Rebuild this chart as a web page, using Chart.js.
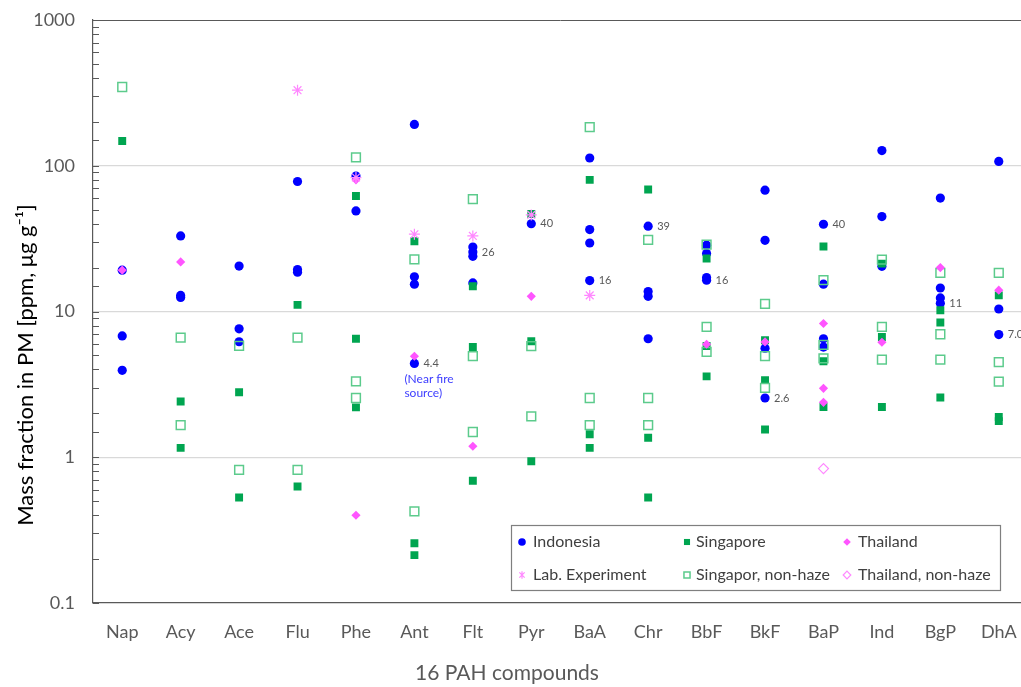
<!DOCTYPE html>
<html>
<head>
<meta charset="utf-8">
<script src="https://cdn.jsdelivr.net/npm/chart.js@4.4.1/dist/chart.umd.min.js"></script>
<style>
html,body{margin:0;padding:0;background:#fff;overflow:hidden;}
#c{display:block;width:1028px;height:687px;}
</style>
</head>
<body>
<canvas id="c" width="1028" height="687"></canvas>
<script>
const categories = ['Nap','Acy','Ace','Flu','Phe','Ant','Flt','Pyr','BaA','Chr','BbF','BkF','BaP','Ind','BgP','DhA'];
const yTickValues = [0.1, 1, 10, 100, 1000];

const indonesiaCats = ['Nap','Nap','Nap','Acy','Acy','Acy','Ace','Ace','Ace','Flu','Flu','Flu','Phe','Phe','Ant','Ant','Ant','Ant','Flt','Flt','Flt','Flt','Pyr','BaA','BaA','BaA','BaA','Chr','Chr','Chr','Chr','BbF','BbF','BbF','BbF','BkF','BkF','BkF','BkF','BaP','BaP','BaP','BaP','Ind','Ind','Ind','BgP','BgP','BgP','BgP','DhA','DhA','DhA'];
const indonesiaVals = [19.2,6.8,3.95,33,12.9,12.5,20.5,7.6,6.2,78,19.4,18.6,85,49,192,17.3,15.4,4.4,27.7,25.6,23.9,15.7,40,113,36.5,29.5,16.3,38.5,13.7,12.7,6.5,28.5,25,17.1,16.4,68,30.8,5.6,2.55,39.7,15.4,6.5,5.7,127,44.8,20.4,60,14.5,12.4,11.4,107,10.4,6.95];

const singaporeCats = ['Nap','Acy','Acy','Ace','Ace','Flu','Flu','Phe','Phe','Phe','Ant','Ant','Ant','Flt','Flt','Flt','Pyr','Pyr','Pyr','BaA','BaA','BaA','Chr','Chr','Chr','BbF','BbF','BbF','BkF','BkF','BkF','BaP','BaP','BaP','Ind','Ind','Ind','BgP','BgP','BgP','DhA','DhA','DhA'];
const singaporeVals = [148,2.41,1.16,2.79,0.53,11.1,0.63,62,6.5,2.2,30.3,0.257,0.213,14.9,5.7,0.69,46.7,6.25,0.94,80,1.44,1.16,68.7,1.36,0.53,23.1,5.8,3.59,6.35,3.38,1.55,27.9,4.56,2.21,21.3,6.69,2.21,10.2,8.4,2.57,12.9,1.89,1.77];

const thailandCats = ['Nap','Acy','Phe','Phe','Ant','Flt','Pyr','BbF','BkF','BaP','BaP','BaP','Ind','BgP','DhA'];
const thailandVals = [19.2,21.9,80,0.4,4.93,1.19,12.7,5.96,6.18,8.27,2.97,2.38,6.15,20,14];

const labCats = ['Flu','Phe','Ant','Flt','Pyr','BaA'];
const labVals = [330,83,33.9,33,46,12.9];

const sgNonHazeCats = ['Nap','Acy','Acy','Ace','Ace','Flu','Flu','Phe','Phe','Phe','Ant','Ant','Flt','Flt','Flt','Pyr','Pyr','BaA','BaA','BaA','Chr','Chr','Chr','BbF','BbF','BbF','BkF','BkF','BkF','BaP','BaP','BaP','Ind','Ind','Ind','BgP','BgP','BgP','DhA','DhA','DhA'];
const sgNonHazeVals = [347,6.63,1.66,5.8,0.82,6.63,0.82,114,3.32,2.55,22.8,0.426,59,4.95,1.49,5.78,1.91,184,2.55,1.66,31,2.55,1.66,28.8,7.83,5.28,11.3,4.95,2.99,16.4,5.9,4.76,22.7,7.83,4.68,18.4,6.98,4.68,18.4,4.49,3.3];

const thNonHazeCats = ['BaP'];
const thNonHazeVals = [0.836];

const noteLabels = ['4.4','26','40','16','39','16','2.6','40','11','7.0'];
const noteCats = ['Ant','Flt','Pyr','BaA','Chr','BbF','BkF','BaP','BgP','DhA'];
const noteVals = [4.4,25.6,40,16.3,38.5,16.4,2.55,39.7,11.4,6.95];

const fireNoteCat = 'Ant';
const fireNoteVal = 4.4;
const fireNoteLines = ['(Near fire', 'source)'];

const seriesNames = ['Indonesia','Singapore','Thailand','Lab. Experiment','Singapor, non-haze','Thailand, non-haze'];

function pts(cats, vals){ return cats.map((c,i)=>({x:c, y:vals[i]})); }

const FONT = 'Lato, "Open Sans", "Liberation Sans", sans-serif';
const GREY = '#595959';

const datasets = [
  {label: seriesNames[0], data: pts(indonesiaCats, indonesiaVals), pointStyle:'circle', pointRadius:4.6, backgroundColor:'#0000FF', borderColor:'#0000FF', borderWidth:0, order:6},
  {label: seriesNames[1], data: pts(singaporeCats, singaporeVals), pointStyle:'rect', pointRadius:5.6, backgroundColor:'#00A550', borderColor:'#00A550', borderWidth:0, order:5},
  {label: seriesNames[2], data: pts(thailandCats, thailandVals), pointStyle:'rectRot', pointRadius:4.6, backgroundColor:'#FF55FF', borderColor:'#FF55FF', borderWidth:0, order:3},
  {label: seriesNames[3], data: pts(labCats, labVals), pointStyle:'star', pointRadius:5.5, backgroundColor:'rgba(0,0,0,0)', borderColor:'#FF88FF', borderWidth:1.2, order:2},
  {label: seriesNames[4], data: pts(sgNonHazeCats, sgNonHazeVals), pointStyle:'rect', pointRadius:6.2, backgroundColor:'rgba(0,0,0,0)', borderColor:'#5CCB8C', borderWidth:1.5, order:4},
  {label: seriesNames[5], data: pts(thNonHazeCats, thNonHazeVals), pointStyle:'rectRot', pointRadius:5, backgroundColor:'rgba(0,0,0,0)', borderColor:'#FF88FF', borderWidth:1.2, order:1}
];
datasets.forEach(d=>{ d.showLine=false; d.pointHoverRadius=d.pointRadius; d.pointBorderWidth=d.borderWidth; d.pointBackgroundColor=d.backgroundColor; d.pointBorderColor=d.borderColor; });

function isDecade(v){ const l=Math.log10(v); return Math.abs(l-Math.round(l))<1e-6; }

function drawMarker(ctx, ds, x, y, r){
  ctx.save();
  ctx.fillStyle = ds.backgroundColor; ctx.strokeStyle = ds.borderColor; ctx.lineWidth = ds.borderWidth || 1;
  ctx.beginPath();
  const st = ds.pointStyle;
  if (st==='circle'){ ctx.arc(x,y,r,0,Math.PI*2); ctx.fill(); }
  else if (st==='rect'){ const s=r*0.8; ctx.rect(x-s,y-s,2*s,2*s); if(ds.borderWidth) ctx.stroke(); else ctx.fill(); }
  else if (st==='rectRot'){ ctx.moveTo(x,y-r); ctx.lineTo(x+r,y); ctx.lineTo(x,y+r); ctx.lineTo(x-r,y); ctx.closePath(); if(ds.borderWidth) ctx.stroke(); else ctx.fill(); }
  else if (st==='star'){ ctx.moveTo(x-r*0.7,y-r*0.7); ctx.lineTo(x+r*0.7,y+r*0.7); ctx.moveTo(x+r*0.7,y-r*0.7); ctx.lineTo(x-r*0.7,y+r*0.7); ctx.moveTo(x,y-r); ctx.lineTo(x,y+r); ctx.stroke(); }
  ctx.restore();
}

const decorPlugin = {
  id:'decor',
  afterDraw(chart){
    const ctx = chart.ctx, xs = chart.scales.x, ys = chart.scales.y, a = chart.chartArea;
    ctx.save();
    ctx.strokeStyle = GREY; ctx.lineWidth = 1;
    ctx.beginPath(); ctx.moveTo(a.left, a.top+0.5); ctx.lineTo(a.right, a.top+0.5); ctx.stroke();
    ys.ticks.forEach(t=>{
      const py = Math.round(ys.getPixelForValue(t.value))+0.5;
      ctx.beginPath(); ctx.moveTo(a.left, py); ctx.lineTo(a.left+6, py); ctx.stroke();
    });
    ctx.fillStyle = GREY; ctx.font = '11px '+FONT; ctx.textBaseline='middle'; ctx.textAlign='left';
    noteLabels.forEach((s,i)=>{
      const px = xs.getPixelForValue(categories.indexOf(noteCats[i]));
      const py = ys.getPixelForValue(noteVals[i]);
      ctx.fillText(s, px+9, py);
    });
    ctx.fillStyle = '#3D3DFF'; ctx.font = '12px '+FONT;
    const fx = xs.getPixelForValue(categories.indexOf(fireNoteCat));
    const fy = ys.getPixelForValue(fireNoteVal);
    fireNoteLines.forEach((s,i)=> ctx.fillText(s, fx-10, fy+16+i*14));
    ctx.fillStyle = '#000'; ctx.font = '22px '+FONT; ctx.textAlign='center';
    ctx.save(); ctx.translate(26, 365); ctx.rotate(-Math.PI/2);
    ctx.fillText('Mass fraction in PM [ppm, \u03BCg g\u207B\u00B9]', 0, 0); ctx.restore();
    ctx.fillStyle = GREY; ctx.font = '21px '+FONT;
    ctx.fillText('16 PAH compounds', 507, 673);
    const lx=511, ly=525, lw=489, lh=65;
    ctx.fillStyle='#fff'; ctx.fillRect(lx,ly,lw,lh);
    ctx.strokeStyle='#7F7F7F'; ctx.lineWidth=1.2; ctx.strokeRect(lx+0.5,ly+0.5,lw,lh);
    const colMarker=[522,687,847], colText=[533,696,858], rowY=[542,575];
    ctx.font='16px '+FONT; ctx.textAlign='left'; ctx.textBaseline='middle';
    chart.data.datasets.forEach((ds,i)=>{
      const c=i%3, r=Math.floor(i/3);
      drawMarker(ctx, ds, colMarker[c], rowY[r], 3.8);
      ctx.fillStyle='#404040';
      ctx.fillText(ds.label, colText[c], rowY[r]);
    });
    ctx.restore();
  }
};

new Chart(document.getElementById('c'), {
  type:'line',
  data:{ labels: categories, datasets },
  options:{
    responsive:false, animation:false, devicePixelRatio:1,
    layout:{ autoPadding:false, padding:{top:20, right:0, left:0, bottom:0} },
    plugins:{ legend:{display:false}, tooltip:{enabled:false} },
    scales:{
      x:{ type:'category', offset:true,
          grid:{ display:false, drawTicks:false },
          border:{ display:true, color:GREY, width:1.2 },
          ticks:{ color:GREY, font:{family:FONT, size:18}, padding:18, maxRotation:0, autoSkip:false },
          afterFit(s){ s.height = 84; s.paddingLeft = 0; s.paddingRight = 0; s.paddingTop = 0; s.paddingBottom = 0; } },
      y:{ type:'logarithmic', min:0.1, max:1000,
          grid:{ drawTicks:false, color:(c)=> (c.tick && isDecade(c.tick.value) && c.tick.value<1000 && c.tick.value>0.1) ? '#D9D9D9' : 'rgba(0,0,0,0)', lineWidth:1.2 },
          border:{ display:true, color:GREY, width:1.2 },
          ticks:{ autoSkip:false, color:GREY, font:{family:FONT, size:18}, padding:18,
                  callback:(v)=> { if(!isDecade(v)) return ''; const m = yTickValues.find(t=>Math.abs(t-v)/t<1e-6); return m===undefined?'':String(m); } },
          afterFit(s){ s.width = 93; s.paddingLeft = 0; s.paddingRight = 0; s.paddingTop = 0; s.paddingBottom = 0; } }
    }
  },
  plugins:[decorPlugin]
});
</script>
</body>
</html>
